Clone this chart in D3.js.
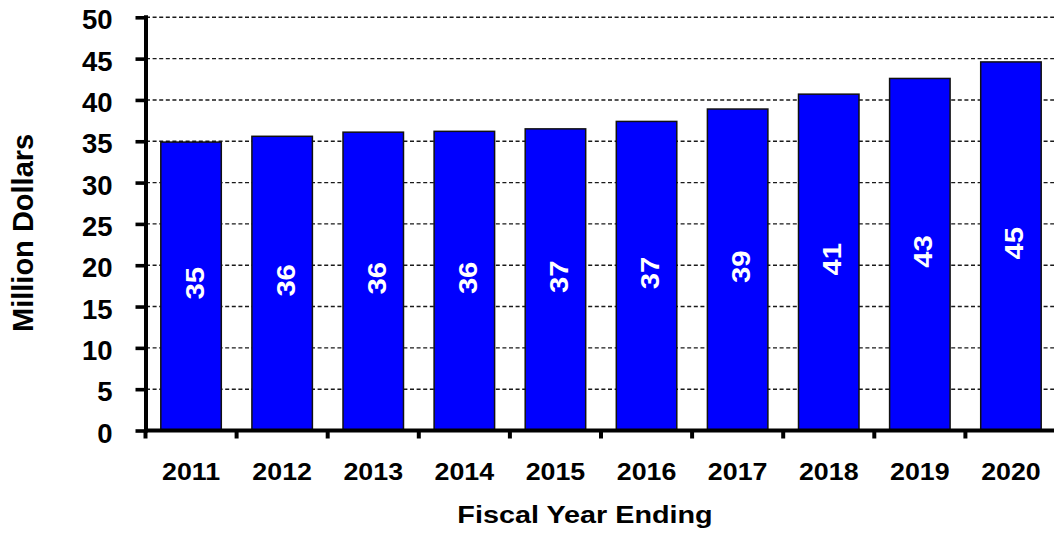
<!DOCTYPE html>
<html>
<head>
<meta charset="utf-8">
<script src="https://cdn.jsdelivr.net/npm/d3@7"></script>
<style>
  html, body { margin: 0; padding: 0; background: #fff; }
  svg { display: block; font-family: "Liberation Sans", Arial, sans-serif; font-weight: bold; }
</style>
</head>
<body>
<svg id="chart" width="1054" height="533"></svg>
<script>
// Fiscal year budget, million dollars
const years = ["2011", "2012", "2013", "2014", "2015", "2016", "2017", "2018", "2019", "2020"];
const values = [34.9, 35.6, 36.1, 36.2, 36.5, 37.4, 38.9, 40.7, 42.6, 44.6];
const yTicks = [0, 5, 10, 15, 20, 25, 30, 35, 40, 45, 50];
const yTitle = "Million Dollars";
const xTitle = "Fiscal Year Ending";

const svg = d3.select("#chart");

const x = d3.scaleBand()
  .domain(years)
  .range([145.5, 1056.5])
  .paddingInner(0.336)
  .paddingOuter(0.168);

const y = d3.scaleLinear()
  .domain([0, 50])
  .range([430.5, 17.3]);

const axisX = 146;
const fmt = d3.format(".0f");

// dashed horizontal gridlines
svg.append("g")
  .selectAll("line")
  .data(yTicks.filter(t => t > 0))
  .join("line")
  .attr("x1", axisX)
  .attr("x2", 1056)
  .attr("y1", d => y(d))
  .attr("y2", d => y(d))
  .attr("stroke", "#1a1a1a")
  .attr("stroke-width", 1.4)
  .attr("stroke-dasharray", "4,2.6");

// bars
svg.append("g")
  .selectAll("rect")
  .data(values)
  .join("rect")
  .attr("x", (d, i) => x(years[i]))
  .attr("y", d => y(d))
  .attr("width", x.bandwidth())
  .attr("height", d => y(0) - y(d))
  .attr("fill", "#0000ff")
  .attr("stroke", "#111")
  .attr("stroke-width", 1.5);

// value labels inside bars, rotated
svg.append("g")
  .selectAll("g")
  .data(values)
  .join("g")
  .attr("transform", (d, i) => {
    const cx = x(years[i]) + x.bandwidth() / 2 + 12.5;
    const cy = (y(d) + y(0)) / 2 - 3;
    return `translate(${cx},${cy}) rotate(-90) scale(1.1,1)`;
  })
  .append("text")
  .attr("text-anchor", "middle")
  .attr("fill", "#fff")
  .attr("font-size", 26.5)
  .text(d => fmt(d));

// y axis
const gy = svg.append("g")
  .attr("transform", `translate(${axisX - 0.5},0)`)
  .call(d3.axisLeft(y).tickValues(yTicks).tickSize(10).tickSizeOuter(0).tickPadding(23));
gy.select(".domain")
  .attr("stroke", "#000")
  .attr("stroke-width", 4)
  .attr("d", `M0.5,${y(50) - 2}V${y(0) + 2}`);
gy.selectAll(".tick line").attr("stroke", "#000").attr("stroke-width", 3.6);
gy.selectAll(".tick text")
  .attr("font-size", 27.5)
  .attr("font-family", "Liberation Sans, Arial, sans-serif")
  .attr("font-weight", "bold")
  .attr("fill", "#000")
  .attr("dy", "0.42em");

// x axis: baseline, tick marks between categories, and year labels
const gx = svg.append("g")
  .attr("transform", `translate(0,${y(0)})`)
  .call(d3.axisBottom(x).tickSize(0).tickPadding(0));
gx.select(".domain").remove();
gx.selectAll(".tick text")
  .attr("y", 49.5)
  .attr("dy", 0)
  .attr("font-size", 23.5)
  .attr("font-family", "Liberation Sans, Arial, sans-serif")
  .attr("font-weight", "bold")
  .attr("fill", "#000")
  .attr("transform", "scale(1.14,1)");

const boundaries = years.map(d => x(d) - (x.step() - x.bandwidth()) / 2)
  .concat([x(years[years.length - 1]) + x.bandwidth() + (x.step() - x.bandwidth()) / 2]);

gx.append("line")
  .attr("x1", axisX - 2)
  .attr("x2", 1056)
  .attr("y1", 0)
  .attr("y2", 0)
  .attr("stroke", "#000")
  .attr("stroke-width", 4);

gx.selectAll(".bound")
  .data(boundaries)
  .join("line")
  .attr("class", "bound")
  .attr("x1", d => d)
  .attr("x2", d => d)
  .attr("y1", 0)
  .attr("y2", 8)
  .attr("stroke", "#000")
  .attr("stroke-width", 4);

// axis titles
svg.append("text")
  .attr("transform", "translate(33.3,232.9) rotate(-90)")
  .attr("text-anchor", "middle")
  .attr("font-size", 29)
  .attr("fill", "#000")
  .text(yTitle);

svg.append("text")
  .attr("transform", "translate(585,523.3) scale(1.19,1)")
  .attr("text-anchor", "middle")
  .attr("font-size", 24.2)
  .attr("fill", "#000")
  .text(xTitle);
</script>
</body>
</html>
